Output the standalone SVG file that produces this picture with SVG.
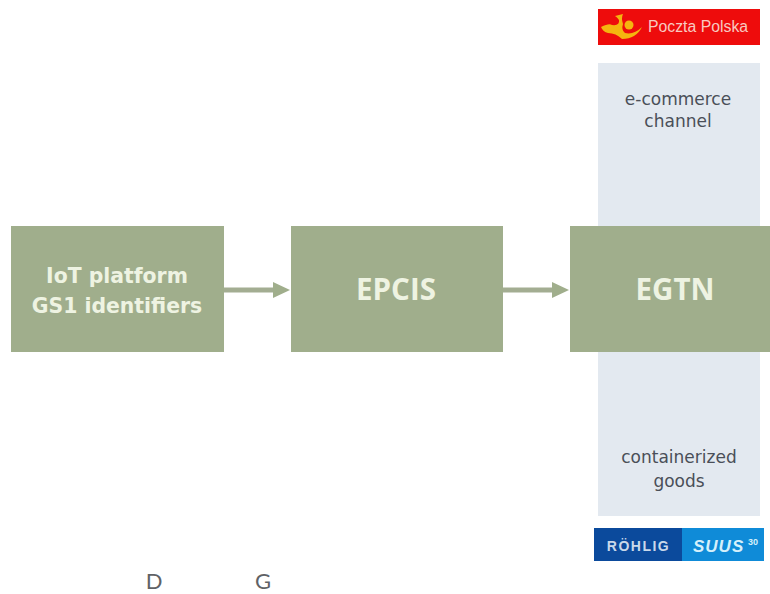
<svg xmlns="http://www.w3.org/2000/svg" width="770" height="594" viewBox="0 0 770 594">
<style>
.box{fill:#a0ae8c}
.band{fill:#e3e9f0}
.boxt{font-family:"DejaVu Sans",sans-serif;font-weight:700;fill:#eef3e2;text-anchor:middle}
.big{font-family:"Open Sans",sans-serif;font-weight:700;font-size:29.500px;fill:#eef3e2;text-anchor:middle}
.bandt{font-family:"DejaVu Sans",sans-serif;font-size:17px;fill:#4a4f58;text-anchor:middle}
.foot{font-family:"Lato",sans-serif;font-size:22px;fill:#5f6266;text-anchor:middle}
.conn{stroke:#a3ad92;stroke-width:5;fill:none;marker-end:url(#ah)}
</style>
<defs><marker id="ah" markerUnits="userSpaceOnUse" markerWidth="17" markerHeight="16" refX="8" refY="8" orient="auto"><path d="M0 0L17 8L0 16Z" fill="#a0ae8c"/></marker></defs>
<rect width="770" height="594" fill="#fff"/>
<g id="band"><rect class="band" x="598" y="63" width="162" height="453"/>
<text class="bandt" x="678" y="105">e-commerce</text><text class="bandt" x="678" y="127">channel</text>
<text class="bandt" x="679" y="463">containerized</text><text class="bandt" x="679" y="487">goods</text></g>
<g id="poczta"><rect x="598" y="9" width="162" height="36" fill="#ee0c0c"/>
<path d="M601 27Q609 23 612 25Q620 26 619 20Q617 17 615 16L623 14Q621 18 623 24Q621 30 625 33Q634 35 642 27Q636 39 622 39Q616 33 608 33Q603 32 601 27Z" fill="#f5b50f"/><circle cx="629" cy="25" r="4.500" fill="#f5b50f"/>
<text x="648" y="32" font-family="'Liberation Sans',sans-serif" font-size="15.800" fill="#f8c9c0">Poczta Polska</text></g>
<g id="rohlig"><rect x="594" y="528" width="88" height="33" fill="#0b4a9c"/><rect x="682" y="528" width="82" height="33" fill="#0f8bd8"/>
<text x="638.500" y="551" font-family="'Liberation Sans',sans-serif" font-weight="700" font-size="14" fill="#c9d8ea" text-anchor="middle" letter-spacing="1.500">RÖHLIG</text>
<text x="693" y="552" font-family="'Liberation Sans',sans-serif" font-weight="700" font-style="italic" font-size="17" fill="#d5f0fb" letter-spacing="1">SUUS</text>
<text x="748" y="545" font-family="'Liberation Sans',sans-serif" font-weight="700" font-size="9" fill="#d5f0fb">30</text></g>
<g id="connectors"><path class="conn" d="M224 290H281"/><path class="conn" d="M503 290H560"/></g>
<g id="iot"><rect class="box" x="11" y="226" width="213" height="126"/>
<text class="boxt" font-size="20.400" x="117" y="283">IoT platform</text><text class="boxt" font-size="20.400" x="117" y="313">GS1 identifiers</text></g>
<g id="epcis"><rect class="box" x="291" y="226" width="212" height="126"/><text class="big" x="396" y="300">EPCIS</text></g>
<g id="egtn"><rect class="box" x="570" y="226" width="200" height="126"/><text class="big" x="675" y="300">EGTN</text></g>
<g id="footer"><text class="foot" x="154" y="589">D</text><text class="foot" x="263" y="589">G</text></g>
</svg>
